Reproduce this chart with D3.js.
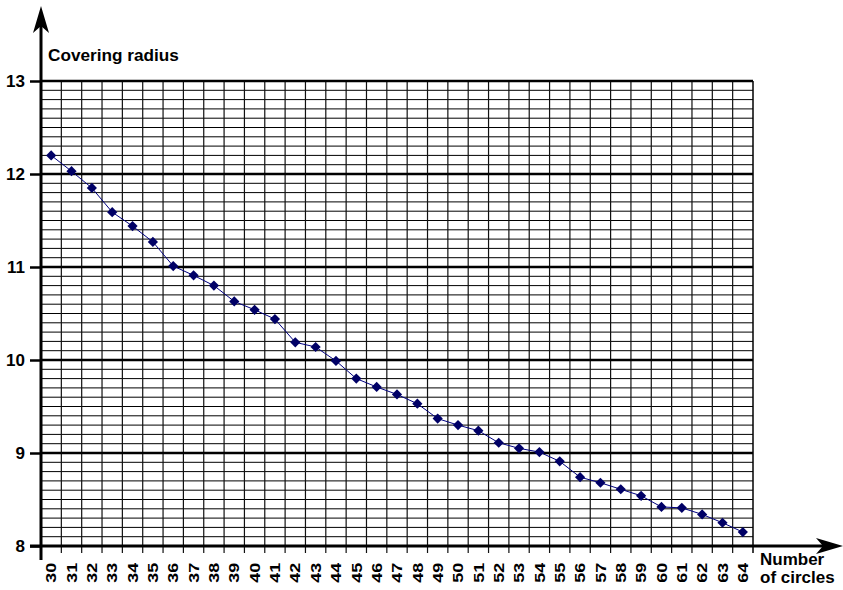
<!DOCTYPE html>
<html>
<head>
<meta charset="utf-8">
<style>
  body { margin: 0; background: #fff; }
  text { font-family: "Liberation Sans", Arial, sans-serif; font-weight: bold; fill: #000; }
</style>
</head>
<body>
<script src="https://d3js.org/d3.v7.min.js"></script>
<script>
// nombre de cercles
const CIRCLES = [30, 31, 32, 33, 34, 35, 36, 37, 38, 39, 40, 41, 42, 43, 44, 45, 46,
  47, 48, 49, 50, 51, 52, 53, 54, 55, 56, 57, 58, 59, 60, 61, 62, 63, 64];
// rayon de recouvrement
const RADIUS = [12.20, 12.03, 11.85, 11.59, 11.44, 11.27, 11.01, 10.91, 10.80, 10.63,
  10.54, 10.44, 10.19, 10.14, 9.99, 9.80, 9.71, 9.63, 9.53, 9.37, 9.30, 9.24, 9.11,
  9.05, 9.01, 8.91, 8.74, 8.68, 8.61, 8.54, 8.42, 8.41, 8.34, 8.25, 8.15];
const Y_TICKS = [8, 9, 10, 11, 12, 13];

const WIDTH = 843
const HEIGHT = 590
const LEFT = 41, RIGHT = 753, TOP = 81, BOTTOM = 546

const svg = d3.select('body').append('svg').attr('width', WIDTH).attr('height', HEIGHT);

const x = d3.scaleBand().domain(CIRCLES).range([LEFT, RIGHT]).padding(0);
const y = d3.scaleLinear().domain([8, 13]).range([BOTTOM, TOP]);

// grille horizontale fine (tous les 0.1)
const minor = d3.range(81, 130).map(d => d / 10);
svg.append('g').selectAll('line')
  .data(minor.filter(v => !Y_TICKS.includes(v)))
  .enter().append('line')
  .attr('x1', LEFT).attr('x2', RIGHT)
  .attr('y1', d => y(d)).attr('y2', d => y(d))
  .attr('stroke', '#000').attr('stroke-width', 1);

// grille verticale + petites graduations sous l'axe
svg.append('g').selectAll('line')
  .data(CIRCLES.slice(1))
  .enter().append('line')
  .attr('x1', d => x(d)).attr('x2', d => x(d))
  .attr('y1', TOP).attr('y2', BOTTOM + 7)
  .attr('stroke', '#111').attr('stroke-width', 1.2);

// bord droit
svg.append('line')
  .attr('x1', RIGHT).attr('x2', RIGHT).attr('y1', TOP).attr('y2', BOTTOM + 7)
  .attr('stroke', '#000').attr('stroke-width', 1.5);

// lignes majeures
svg.append('g').selectAll('line')
  .data(Y_TICKS.slice(1))
  .enter().append('line')
  .attr('x1', LEFT).attr('x2', RIGHT)
  .attr('y1', d => y(d)).attr('y2', d => y(d))
  .attr('stroke', '#000').attr('stroke-width', 2.5);

// axe y (labels)
const axisY = d3.axisLeft(y).tickValues(Y_TICKS).tickSize(11).tickPadding(5).tickFormat(d => `${d}`);
const gy = svg.append('g').attr('transform', `translate(${LEFT},0)`).call(axisY);
gy.select('.domain').remove();
gy.selectAll('.tick line').attr('stroke', '#000').attr('stroke-width', 2.5);
gy.selectAll('.tick text').attr('font-size', 17).attr('font-family', '"Liberation Sans", Arial, sans-serif').attr('font-weight', 'bold');

// axe x (labels)
const axisX = d3.axisBottom(x).tickSize(0).tickFormat(d => `${d}`);
const gx = svg.append('g').attr('transform', `translate(0,${BOTTOM})`).call(axisX);
gx.select('.domain').remove();
gx.selectAll('.tick text')
  .attr('font-size', 16)
  .attr('font-family', '"Liberation Sans", Arial, sans-serif').attr('font-weight', 'bold')
  .attr('transform', 'rotate(-90) scale(1.12,0.9)')
  .attr('text-anchor', 'end')
  .attr('x', -15).attr('y', 0).attr('dy', '0.36em');

// axes principaux avec flèches
svg.append('line').attr('x1', LEFT).attr('x2', LEFT).attr('y1', 560).attr('y2', 20)
  .attr('stroke', '#000').attr('stroke-width', 3);
svg.append('path').attr('d', 'M41,6 L49,33 L41,26 L33,33 Z').attr('fill', '#000');
svg.append('line').attr('x1', 30).attr('x2', 830).attr('y1', BOTTOM).attr('y2', BOTTOM)
  .attr('stroke', '#000').attr('stroke-width', 3);
svg.append('path').attr('d', 'M843,546 L816,538 L823,546 L816,554 Z').attr('fill', '#000');

// courbe
const pts = CIRCLES.map((c, i) => ({ c: c, r: RADIUS[i] }));
const line = d3.line().x(d => x(d.c) + x.bandwidth() / 2).y(d => y(d.r));
svg.append('path').datum(pts).attr('d', line)
  .attr('fill', 'none').attr('stroke', '#000080').attr('stroke-width', 1);

svg.append('g').selectAll('path')
  .data(pts)
  .enter().append('path')
  .attr('d', d3.symbol().type(d3.symbolSquare).size(52))
  .attr('transform', d => `translate(${x(d.c) + x.bandwidth() / 2},${y(d.r)}) rotate(45)`)
  .attr('fill', '#000066');

// titres des axes
svg.append('text').attr('x', 48).attr('y', 61).attr('font-size', 17.2).text('Covering radius');
svg.append('text').attr('x', 760).attr('y', 565).attr('font-size', 17).text('Number');
svg.append('text').attr('x', 760).attr('y', 583).attr('font-size', 17).text('of circles');
</script>
</body>
</html>
